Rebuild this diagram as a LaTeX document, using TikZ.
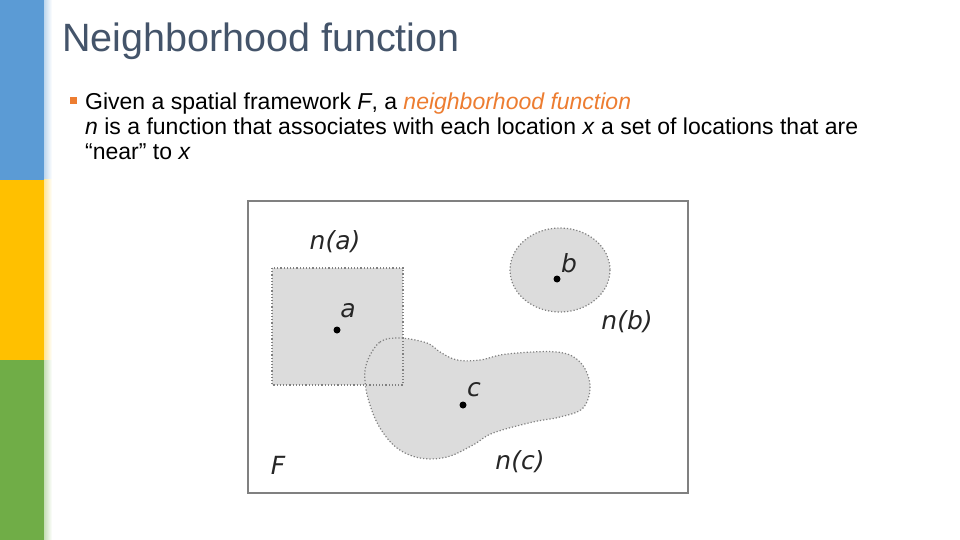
\documentclass[tikz,border=0pt]{standalone}
\usepackage{fontspec}
\setmainfont{Liberation Sans}
\newfontfamily\figfont{DejaVu Sans}
\definecolor{barblue}{HTML}{5B9BD5}
\definecolor{baryellow}{HTML}{FFC000}
\definecolor{bargreen}{HTML}{70AD47}
\definecolor{titlecol}{HTML}{44546A}
\definecolor{accent}{HTML}{ED7D31}
\definecolor{regfill}{HTML}{DCDCDC}
\tikzset{
  regfillst/.style={fill=regfill},
  regline/.style={draw=gray, dotted, line width=1.2pt},
  lbl/.style={font=\figfont\itshape\fontsize{25}{27}\selectfont, text=black!85, inner sep=0pt},
  pt/.style={circle, fill=black, inner sep=0pt, minimum size=7pt},
  body/.style={font=\fontsize{23}{25}\selectfont, anchor=base west, inner sep=0pt}
}
\begin{document}
\begin{tikzpicture}[x=1pt,y=-1pt]
\useasboundingbox (0,0) rectangle (960,540);
\fill[white] (0,0) rectangle (960,540);
\fill[barblue] (0,0) rectangle (44,180);
\fill[baryellow] (0,180) rectangle (44,360);
\fill[bargreen] (0,360) rectangle (44,540);
\shade[left color=barblue!40, right color=white] (44,0) rectangle (52,180);
\shade[left color=baryellow!40, right color=white] (44,180) rectangle (52,360);
\shade[left color=bargreen!40, right color=white] (44,360) rectangle (52,540);
\node[anchor=base west, inner sep=0pt, text=titlecol, font=\fontsize{39.5}{42}\selectfont] (title) at (62,52) {Neighborhood function};
\fill[accent] (70,97) rectangle (77,104);
\node[body] (l1) at (85,110) {Given a spatial framework \textit{F}, a \textcolor{accent}{\textit{neighborhood function}}};
\node[body] (l2) at (85,135) {\textit{n} is a function that associates with each location \textit{x} a set of locations that are};
\node[body] (l3) at (85,160) {``near'' to \textit{x}};
\draw[gray, line width=2pt] (248,201) rectangle (688,493);
\def\blob{plot[smooth cycle, tension=0.6] coordinates {(367,362) (380,342) (400,338) (427,343) (440,352) (457,360) (480,360) (507,354) (557,352) (580,362) (590,385) (583,408) (560,417) (533,422) (493,433) (473,445) (447,457) (420,458) (397,448) (380,428) (370,405) (365,382)}}
\fill[regfillst] (272,268) rectangle (403,385);
\fill[regfillst] \blob;
\fill[regfillst] (560,270) ellipse (50 and 42);
\draw[regline] (272,268) rectangle (403,385);
\draw[regline] \blob;
\draw[regline] (560,270) ellipse (50 and 42);
\node[pt] (a) at (337,330) {};
\node[pt] (b) at (557,279) {};
\node[pt] (c) at (463,405) {};
\node[lbl] (la) at (348,311) {a};
\node[lbl] (lb) at (569,263) {b};
\node[lbl] (lc) at (474,390) {c};
\node[lbl] (na) at (335,242) {n(a)};
\node[lbl] (nb) at (627,322) {n(b)};
\node[lbl] (nc) at (520,462) {n(c)};
\node[lbl] (F) at (278,465) {F};
\end{tikzpicture}
\end{document}
